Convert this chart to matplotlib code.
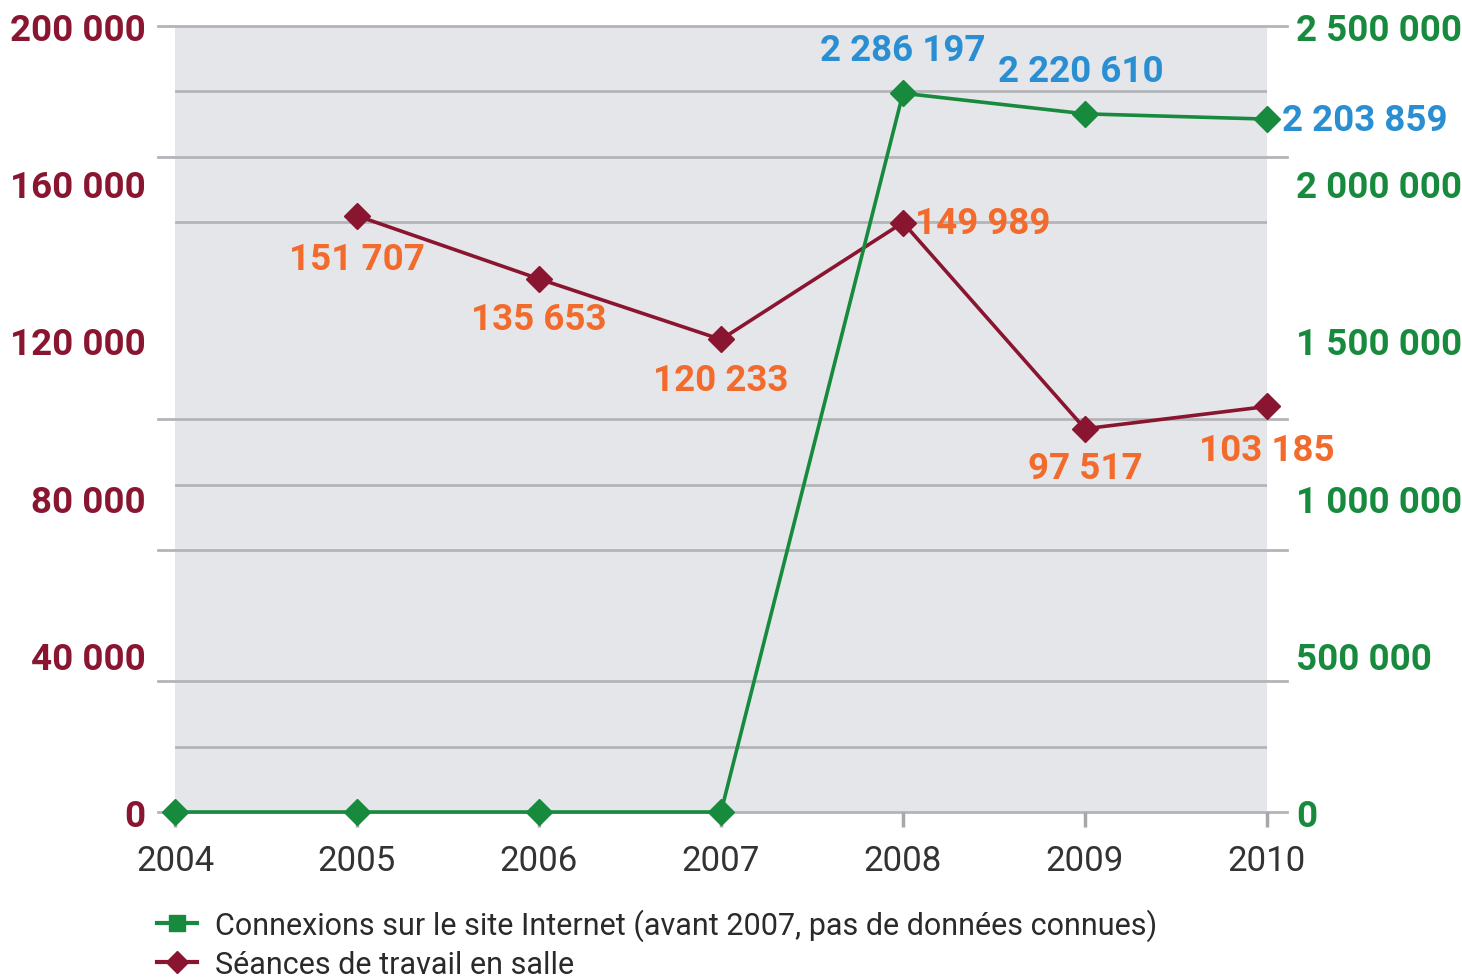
import matplotlib
matplotlib.use("Agg")
import matplotlib.pyplot as plt
from matplotlib.lines import Line2D

plt.rcParams['font.family'] = ['Roboto', 'DejaVu Sans']

years = [2004, 2005, 2006, 2007, 2008, 2009, 2010]
seance_years = [2005, 2006, 2007, 2008, 2009, 2010]
seances = [151707, 135653, 120233, 149989, 97517, 103185]
connexions = [0, 0, 0, 0, 2286197, 2220610, 2203859]
conn_label_years = [2008, 2009, 2010]
conn_labels = [2286197, 2220610, 2203859]

left_ticks = [0, 40000, 80000, 120000, 160000, 200000]
right_ticks = [0, 500000, 1000000, 1500000, 2000000, 2500000]

# grid levels (left axis units), long ones stick out past the plot
grid_long = [0, 33333.3, 66666.7, 100000, 166666.7, 200000]
grid_short = [16666.7, 83333.3, 150000, 183333.3]

c_red = '#8a1530'
c_green = '#188a3e'
c_orange = '#f26b2c'
c_blue = '#2a8ed2'
c_grid = '#b2b4b8'
c_bg = '#e5e6ea'


def fmt(v):
    return f"{v:,}".replace(",", " ")


fig = plt.figure(figsize=(14.62, 9.78), dpi=100)
ax = fig.add_axes([0.1197, 0.1687, 0.7469, 0.8037])
ax.set_facecolor(c_bg)
ax2 = ax.twinx()

ax.set_xlim(2004, 2010)
ax.set_ylim(0, 200000)
ax2.set_ylim(0, 2500000)

for g in grid_long:
    ax.axhline(g, xmin=-0.0156, xmax=1.018, color=c_grid, lw=2, clip_on=False, zorder=1)
for g in grid_short:
    ax.axhline(g, xmin=0.001, xmax=1.0, color=c_grid, lw=2, zorder=1)

ax.plot(seance_years, seances, color=c_red, lw=2.6, marker='D', ms=13.5, zorder=3, clip_on=False)
ax2.plot(years, connexions, color=c_green, lw=2.6, marker='D', ms=13.5, zorder=3, clip_on=False)

# labels
sea_off = [(0, -31), (0, -29), (0, -29), (9, 0), (0, -28), (0, -31)]
sea_ha = ['center', 'center', 'center', 'left', 'center', 'center']
for x, v, o, h in zip(seance_years, seances, sea_off, sea_ha):
    ax.annotate(fmt(v), (x, v), xytext=o, textcoords='offset points', ha=h, va='center',
                fontsize=26.5, fontweight='bold', color=c_orange, zorder=5)

conn_off = [(0, 31), (-3, 31), (11, -1)]
conn_ha = ['center', 'center', 'left']
for x, v, o, h in zip(conn_label_years, conn_labels, conn_off, conn_ha):
    ax2.annotate(fmt(v), (x, v), xytext=o, textcoords='offset points', ha=h, va='center',
                 fontsize=26.5, fontweight='bold', color=c_blue, zorder=5, annotation_clip=False)

for a in (ax, ax2):
    for s in a.spines.values():
        s.set_visible(False)

ax.set_xticks(years)
ax.set_xticklabels([str(y) for y in years], fontsize=25, color='#333333')
ax.tick_params(axis='x', length=11, width=2.5, color='#a5a7ab', pad=12)

ax.set_yticks(left_ticks)
ax.set_yticklabels([fmt(t) for t in left_ticks], fontsize=26.5, fontweight='bold', color=c_red)
ax.tick_params(axis='y', length=0, pad=21)

ax2.set_yticks(right_ticks)
ax2.set_yticklabels([fmt(t) for t in right_ticks], fontsize=26.5, fontweight='bold', color=c_green)
ax2.tick_params(axis='y', length=0, pad=21)

handles = [
    Line2D([], [], color=c_green, lw=3, marker='s', ms=11),
    Line2D([], [], color=c_red, lw=3, marker='D', ms=11),
]
names = ["Connexions sur le site Internet (avant 2007, pas de données connues)",
         "Séances de travail en salle"]
leg = fig.legend(handles, names, loc='upper left', bbox_to_anchor=(0.099, 0.083),
                 frameon=False, fontsize=22, handlelength=1.3, handletextpad=0.6,
                 labelspacing=0.3, borderaxespad=0)
for t in leg.get_texts():
    t.set_color('#2a2a2a')

fig.savefig("out.png", dpi=100)
